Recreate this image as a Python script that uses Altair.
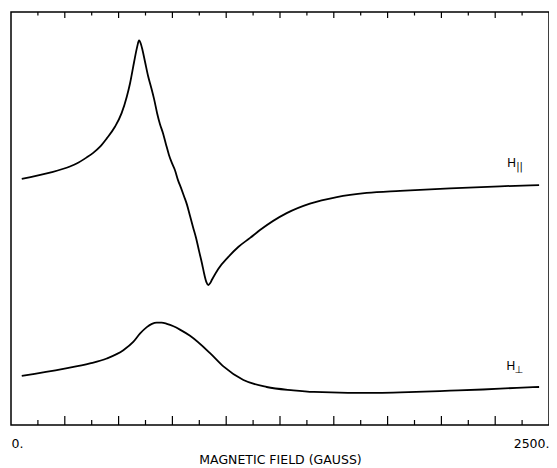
import altair as alt
import pandas as pd

# H parallel trace (field in gauss, signal in arbitrary units)
field_par = [50, 181, 274, 305, 352, 382, 414, 445, 483, 514, 538, 553, 572, 586, 595,
             604, 611, 623, 637, 651, 665, 679, 692, 706, 720, 734, 748, 762, 776, 790,
             804, 818, 832, 846, 860, 874, 888, 899, 908, 917, 925, 933, 963, 1010, 1056,
             1111, 1157, 1281, 1389, 1514, 1653, 1808, 2040, 2272, 2454]
signal_par = [59.6, 61.1, 62.6, 63.3, 64.8, 65.9, 67.4, 69.4, 72.2, 75.5, 79.5, 82.7, 87.9,
              91.5, 93.1, 92.2, 90.8, 87.9, 84.5, 81.8, 78.9, 75.5, 72.9, 70.7, 68.0, 65.4,
              63.4, 61.7, 59.3, 57.4, 55.4, 53.3, 50.6, 47.9, 45.3, 42.1, 39.0, 36.3, 34.6,
              33.9, 34.3, 35.1, 37.8, 40.7, 43.1, 45.3, 47.2, 51.3, 53.6, 55.2, 56.2, 56.7,
              57.3, 57.8, 58.1]

# H perpendicular trace
field_perp = [50, 243, 367, 445, 522, 568, 599, 631, 655, 677, 700, 724, 755, 785, 832,
              925, 987, 1080, 1188, 1312, 1408, 1566, 1724, 1882, 2040, 2193, 2351, 2454]
signal_perp = [11.9, 13.6, 14.9, 16.1, 18.1, 20.1, 22.1, 23.7, 24.5, 24.8, 24.8, 24.5, 23.9,
               23.1, 21.6, 17.4, 14.2, 10.9, 9.2, 8.4, 8.0, 7.8, 7.8, 8.0, 8.3, 8.6, 9.0, 9.2]

# frame ticks
major_ticks = [250, 500, 750, 1000, 1250, 1500, 1750, 2000, 2250]
minor_ticks = [125, 375, 625, 875, 1125, 1375, 1625, 1875, 2125, 2375]
axis_labels = [0, 2500]

# trace labels
label_names = ["par", "perp"]
label_main = ["H", "H"]
label_sub = ["||", "\u22a5"]
label_field = [2326, 2323]
label_signal = [63.5, 14.3]

W, H = 538, 413

df = pd.concat([
    pd.DataFrame({"field": field_par, "signal": signal_par, "series": "par"}),
    pd.DataFrame({"field": field_perp, "signal": signal_perp, "series": "perp"}),
])
ticks_major = pd.DataFrame({"field": major_ticks})
ticks_minor = pd.DataFrame({"field": minor_ticks})
labels = pd.DataFrame({"name": label_names, "main": label_main, "sub": label_sub,
                       "field": label_field, "signal": label_signal})

FONT = "DejaVu Sans"

xscale = alt.Scale(domain=[0, 2500], nice=False, zero=False)
yscale = alt.Scale(domain=[0, 100], nice=False, zero=False)

lines = alt.Chart(df).mark_line(color="black", strokeWidth=1.8, interpolate="monotone").encode(
    x=alt.X("field:Q", scale=xscale,
            axis=alt.Axis(values=axis_labels, labelExpr="datum.value + '.'",
                          ticks=False, domain=False, grid=False,
                          labelFont=FONT, labelFontSize=12.5, labelColor="black",
                          labelPadding=12, labelFlush=True,
                          title="MAGNETIC FIELD (GAUSS)", titleFont=FONT, titleFontSize=12.5,
                          titleFontWeight="normal", titleColor="black", titlePadding=4)),
    y=alt.Y("signal:Q", scale=yscale, axis=None),
    detail="series:N",
)

def tick_layer(data, y0, y1):
    return alt.Chart(data).mark_rule(color="black", strokeWidth=1.2).encode(
        x=alt.X("field:Q", scale=xscale),
        y=alt.value(y0), y2=alt.value(y1),
    )

ticks = [
    tick_layer(ticks_major, H, H - 9),
    tick_layer(ticks_minor, H, H - 5),
    tick_layer(ticks_major, 0, 6),
    tick_layer(ticks_minor, 0, 3.5),
]

main_txt = alt.Chart(labels).mark_text(font="Liberation Sans", fontSize=12, color="black").encode(
    x=alt.X("field:Q", scale=xscale), y=alt.Y("signal:Q", scale=yscale), text="main:N")
sub_txt = alt.Chart(labels).mark_text(font="DejaVu Sans", fontSize=10, color="black", dx=8, dy=4).encode(
    x=alt.X("field:Q", scale=xscale), y=alt.Y("signal:Q", scale=yscale), text="sub:N")

chart = alt.layer(lines, *ticks, main_txt, sub_txt).properties(
    width=W, height=H,
    background="white",
    autosize=alt.AutoSizeParams(type="none"),
    padding={"left": 3, "top": 4, "right": 0, "bottom": 43},
).configure_view(stroke="black", strokeWidth=1.5)

chart.save("out.html", embed_options={"renderer": "svg", "actions": False})
